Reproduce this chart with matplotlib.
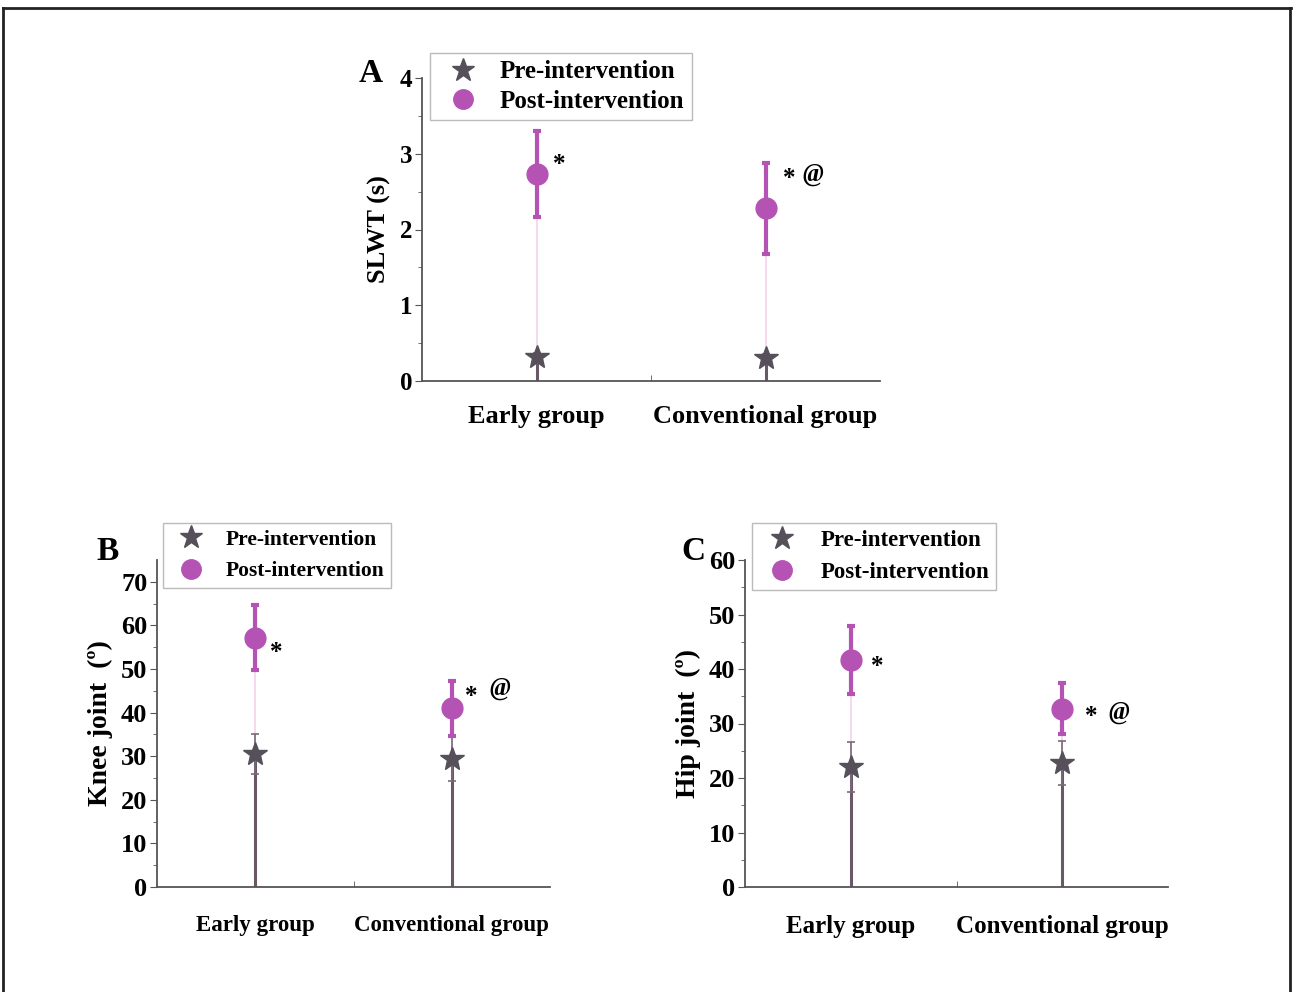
import matplotlib
matplotlib.use("Agg")
import matplotlib.pyplot as plt
from matplotlib.lines import Line2D

plt.rcParams['font.family'] = ['Liberation Serif', 'DejaVu Serif']
plt.rcParams['font.weight'] = 'bold'

groups = ["Early group", "Conventional group"]

# panel A: SLWT (s)
slwt_pre = [0.32, 0.30]
slwt_pre_sd = [0.05, 0.05]
slwt_post = [2.73, 2.28]
slwt_post_sd = [0.57, 0.60]

# panel B: knee joint (deg)
knee_pre = [30.5, 29.3]
knee_pre_sd = [4.6, 5.0]
knee_post = [57.2, 41.0]
knee_post_sd = [7.4, 6.3]

# panel C: hip joint (deg)
hip_pre = [22.0, 22.8]
hip_pre_sd = [4.6, 4.0]
hip_post = [41.7, 32.7]
hip_post_sd = [6.2, 4.7]

pre_col = "#55505a"
stem_col = "#6a5868"
post_col = "#b553b5"

fig = plt.figure(figsize=(12.94, 9.92), dpi=100)

# outer frame (top, left, right)
for xs, ys in [([0.002, 0.998], [0.992, 0.992]), ([0.002, 0.002], [0.0, 0.992]), ([0.997, 0.997], [0.0, 0.992])]:
    fig.add_artist(Line2D(xs, ys, transform=fig.transFigure, color="#222222", lw=2))


def panel(rect, pre, pre_sd, post, post_sd, ymax, major, minor, ylabel, letter, letter_xy,
          leg_xy, marks, xfs, yfs, lfs, legfs, legsp, xpad, htp):
    ax = fig.add_axes(rect)
    x = [1, 2]
    # drop lines from zero
    ax.vlines(x, 0, post, color="#f2d2ee", lw=1.2, zorder=1)
    ax.vlines(x, 0, pre, color=stem_col, lw=2.2, zorder=2)
    ax.errorbar(x, pre, yerr=pre_sd, fmt="none", ecolor="#7a6a78", elinewidth=1.2,
                capsize=3, capthick=1.2, zorder=3)
    ax.plot(x, pre, ls="none", marker="*", ms=18, color=pre_col, mec=pre_col, zorder=4)
    ax.errorbar(x, post, yerr=post_sd, fmt="none", ecolor=post_col, elinewidth=3,
                capsize=3, capthick=3, zorder=5)
    ax.plot(x, post, ls="none", marker="o", ms=15, color=post_col, zorder=6)

    ax.set_xlim(0.5, 2.5)
    ax.set_ylim(0, ymax)
    ax.set_yticks(major)
    ax.set_yticks(minor, minor=True)
    ax.set_xticks(x)
    ax.set_xticks([1.5], minor=True)
    ax.set_xticklabels(groups, fontsize=xfs, fontweight="bold")
    ax.tick_params(axis="x", which="major", length=0, pad=xpad)
    ax.tick_params(axis="x", which="minor", length=4, direction="in", color="#555555")
    ax.tick_params(axis="y", which="major", length=5, labelsize=yfs, color="#555555", pad=2)
    ax.tick_params(axis="y", which="minor", length=3, color="#555555")
    for lab in ax.get_yticklabels():
        lab.set_fontweight("bold")
    for s in ["top", "right"]:
        ax.spines[s].set_visible(False)
    for s in ["left", "bottom"]:
        ax.spines[s].set_color("#555555")
        ax.spines[s].set_linewidth(1.3)
    ax.set_ylabel(ylabel, fontsize=lfs, fontweight="bold", labelpad=6)

    fig.text(letter_xy[0], letter_xy[1], letter, fontsize=24, fontweight="bold",
             ha="center", va="center")
    for (tx, ty, s, it) in marks:
        fig.text(tx, ty, s, fontsize=18, fontweight="bold",
                 style="italic" if it else "normal", ha="center", va="center")

    h1 = Line2D([], [], ls="none", marker="*", ms=17, color=pre_col)
    h2 = Line2D([], [], ls="none", marker="o", ms=14, color=post_col)
    leg = fig.legend([h1, h2], ["Pre-intervention", "Post-intervention"], loc="upper left",
                     bbox_to_anchor=leg_xy, bbox_transform=fig.transFigure, borderaxespad=0,
                     prop={"size": legfs, "weight": "bold"}, fancybox=False, framealpha=1,
                     edgecolor="#bbbbbb", handletextpad=htp, borderpad=0.3, labelspacing=legsp)
    leg.get_frame().set_linewidth(1.0)
    return ax


W, H = 1294.0, 992.0


def fx(px):
    return px / W


def fy(py):
    return 1 - py / H


panel([fx(422), fy(381), fx(880) - fx(422), fy(78) - fy(381)],
      slwt_pre, slwt_pre_sd, slwt_post, slwt_post_sd, 4,
      [0, 1, 2, 3, 4], [0.5, 1.5, 2.5, 3.5], "SLWT (s)", "A", (fx(371), fy(73)),
      (fx(430), fy(53)),
      [(fx(559), fy(164), "*", False), (fx(789), fy(178), "*", False), (fx(813), fy(175), "@", True)],
      xfs=19, yfs=18, lfs=19, legfs=18, legsp=0.25, xpad=17, htp=0.5)

panel([fx(157), fy(887), fx(550) - fx(157), fy(560) - fy(887)],
      knee_pre, knee_pre_sd, knee_post, knee_post_sd, 75,
      list(range(0, 71, 10)), list(range(5, 75, 10)), "Knee joint  (º)", "B", (fx(108), fy(551)),
      (fx(163), fy(523)),
      [(fx(276), fy(653), "*", False), (fx(471), fy(696), "*", False), (fx(500), fy(689), "@", True)],
      xfs=16.5, yfs=19, lfs=20, legfs=15.5, legsp=0.55, xpad=20, htp=0.6)

panel([fx(745), fy(887), fx(1168) - fx(745), fy(560) - fy(887)],
      hip_pre, hip_pre_sd, hip_post, hip_post_sd, 60,
      list(range(0, 61, 10)), list(range(5, 60, 10)), "Hip joint  (º)", "C", (fx(693), fy(551)),
      (fx(752), fy(523)),
      [(fx(877), fy(667), "*", False), (fx(1091), fy(716), "*", False), (fx(1119), fy(712), "@", True)],
      xfs=18, yfs=19, lfs=20, legfs=16.5, legsp=0.5, xpad=20, htp=0.7)

fig.savefig("out.png", dpi=100)
